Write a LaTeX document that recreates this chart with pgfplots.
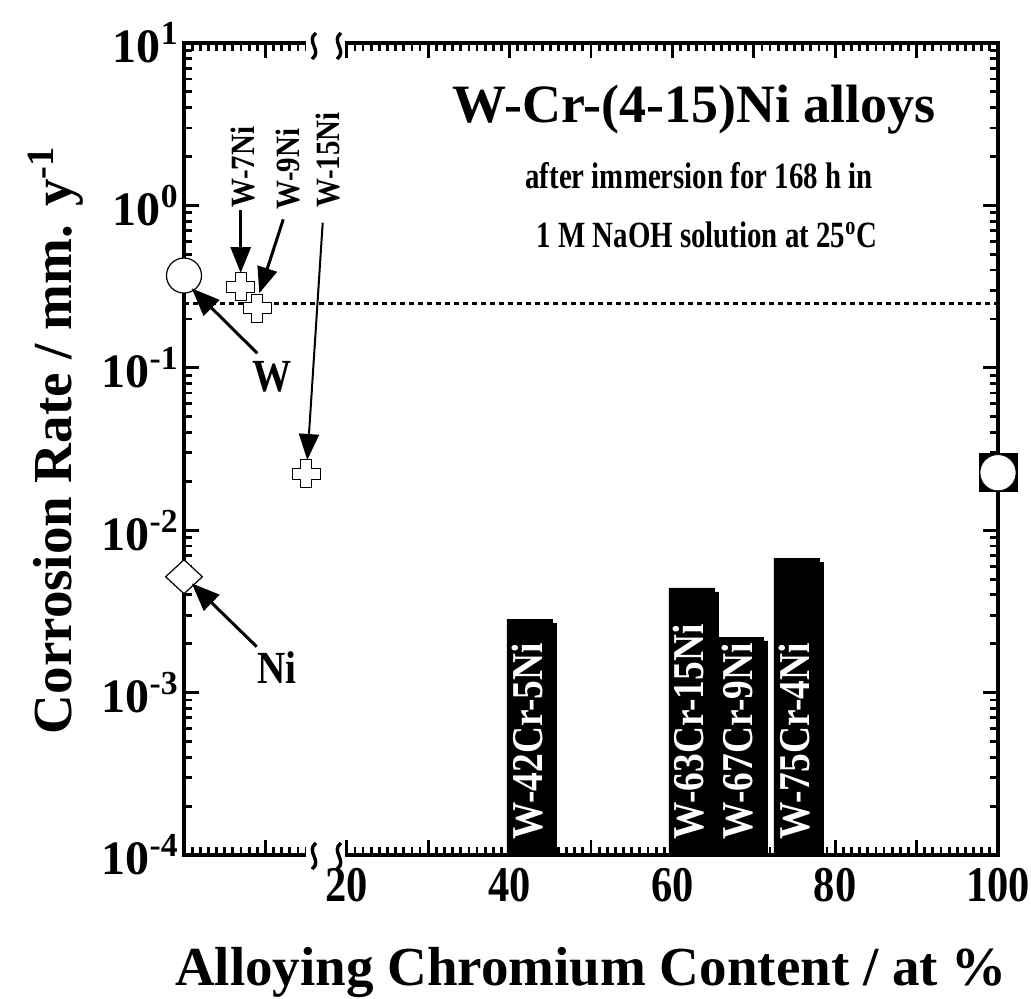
\documentclass[border=0pt]{standalone}
\usepackage{pgfplots}
\pgfplotsset{compat=1.18}
\usepackage{fontspec}
\setmainfont{Liberation Serif}
\newfontfamily\cond{Liberation Serif}[FakeStretch=0.85]
\newfontfamily\condb{Liberation Serif}[FakeStretch=0.78]
\usetikzlibrary{arrows.meta}

\pgfdeclareplotmark{fatplus}{%
  \pgfmathsetlengthmacro\pa{0.4*\pgfplotmarksize}%
  \pgfpathmoveto{\pgfqpoint{\pa}{\pgfplotmarksize}}%
  \pgfpathlineto{\pgfqpoint{\pa}{\pa}}%
  \pgfpathlineto{\pgfqpoint{\pgfplotmarksize}{\pa}}%
  \pgfpathlineto{\pgfqpoint{\pgfplotmarksize}{-\pa}}%
  \pgfpathlineto{\pgfqpoint{\pa}{-\pa}}%
  \pgfpathlineto{\pgfqpoint{\pa}{-\pgfplotmarksize}}%
  \pgfpathlineto{\pgfqpoint{-\pa}{-\pgfplotmarksize}}%
  \pgfpathlineto{\pgfqpoint{-\pa}{-\pa}}%
  \pgfpathlineto{\pgfqpoint{-\pgfplotmarksize}{-\pa}}%
  \pgfpathlineto{\pgfqpoint{-\pgfplotmarksize}{\pa}}%
  \pgfpathlineto{\pgfqpoint{-\pa}{\pa}}%
  \pgfpathlineto{\pgfqpoint{-\pa}{\pgfplotmarksize}}%
  \pgfpathclose
  \pgfusepathqfillstroke
}
\pgfdeclareplotmark{wdiamond}{%
  \pgfpathmoveto{\pgfqpoint{0pt}{\pgfplotmarksize}}%
  \pgfpathlineto{\pgfqpoint{1.08\pgfplotmarksize}{0pt}}%
  \pgfpathlineto{\pgfqpoint{0pt}{-\pgfplotmarksize}}%
  \pgfpathlineto{\pgfqpoint{-1.08\pgfplotmarksize}{0pt}}%
  \pgfpathclose
  \pgfusepathqfillstroke
}

\begin{document}
\begin{tikzpicture}
\begin{axis}[
  at={(0,0)}, anchor=south west,
  scale only axis, width=407pt, height=406pt,
  xmin=0, xmax=100, ymin=1e-4, ymax=10, ymode=log,
  log origin=infty, clip=false,
  axis line style={line width=2pt},
  tick style={line width=1.4pt, black},
  major tick length=7.5pt, minor tick length=4pt,
  tick align=inside,
  xtick={0,10,...,100},
  xticklabels={,,20,,40,,60,,80,,100},
  minor x tick num=9,
  ytick={1e-4,1e-3,1e-2,1e-1,1,10},
  yticklabels={10\textsuperscript{-4},10\textsuperscript{-3},10\textsuperscript{-2},10\textsuperscript{-1},10\textsuperscript{0},10\textsuperscript{1}},
  yticklabel style={font=\bfseries\fontsize{24pt}{24pt}\selectfont, inner sep=0pt, xshift=-2.5pt},
  xticklabel style={font=\cond\bfseries\fontsize{25pt}{25pt}\selectfont, inner sep=0pt, yshift=-6.5pt},
]
% reference level
\addplot[black, line width=1.5pt, dash pattern=on 2.5pt off 2pt] coordinates {(0,0.25) (100,0.25)};
% bars (shadow + bar)
\addplot[ybar, bar width=23pt, bar shift=2pt, fill=black, draw=none]
  coordinates {(42.5,2.68e-3) (62.4,4.17e-3) (68.4,2.08e-3) (75.3,6.37e-3)};
\addplot[ybar, bar width=23pt, bar shift=0pt, fill=black, draw=none]
  coordinates {(42.5,2.84e-3) (62.4,4.41e-3) (68.4,2.20e-3) (75.3,6.74e-3)};
% W
\addplot[only marks, mark=*, mark size=8.75pt, mark options={fill=white, draw=black, line width=0.6pt}]
  coordinates {(0,0.370)};
% Ni
\addplot[only marks, mark=wdiamond, mark size=8.5pt, mark options={fill=white, draw=black, line width=0.6pt}]
  coordinates {(0,0.00517)};
% W-Ni alloys
\addplot[only marks, mark=fatplus, mark size=7pt, mark options={fill=white, draw=black, line width=0.5pt}]
  coordinates {(7,0.316) (9,0.2325) (15,0.0222)};
% Cr
\addplot[only marks, mark=square*, mark size=9.5pt, mark options={fill=black, draw=black}]
  coordinates {(100,0.0226)};
\addplot[only marks, mark=*, mark size=9pt, mark options={fill=white, draw=black, line width=0.3pt}]
  coordinates {(100,0.0226)};
\end{axis}

\begin{scope}[x=0.5pt, y=-0.5pt, shift={(-92pt,427.5pt)}]
% axis break
\fill[white] (305.5,836) rectangle (345,859);
\fill[white] (305.5,39) rectangle (345,62);
\foreach \bx in {314,339}{
  \draw[line width=1.7pt] (\bx+2,843) .. controls (\bx-9,851) and (\bx+9,861) .. (\bx-2,869);
  \draw[line width=1.7pt] (\bx+2,33) .. controls (\bx-9,41) and (\bx+9,51) .. (\bx-2,59);
}
% arrows
\draw[line width=1.5pt, -{Triangle[length=13pt,width=10pt]}] (240.7,210) -- (240.7,273);
\draw[line width=1.5pt, -{Triangle[length=13pt,width=10pt]}] (283.3,219.3) -- (259.3,293.3);
\draw[line width=1pt, -{Triangle[length=13pt,width=10pt]}] (322.7,222.7) -- (307.3,460);
\draw[line width=1.5pt, -{Triangle[length=14pt,width=11pt]}] (257.3,353.3) -- (191.7,288.3);
\draw[line width=1.5pt, -{Triangle[length=14pt,width=11pt]}] (256.7,646.7) -- (191.7,583.3);
% point labels
\node[rotate=90, anchor=west, inner sep=0pt, font=\cond\bfseries\fontsize{17pt}{17pt}\selectfont] at (243,208) {W-7Ni};
\node[rotate=90, anchor=west, inner sep=0pt, font=\cond\bfseries\fontsize{17pt}{17pt}\selectfont] at (287.5,210) {W-9Ni};
\node[rotate=90, anchor=west, inner sep=0pt, font=\cond\bfseries\fontsize{17pt}{17pt}\selectfont] at (327.5,208) {W-15Ni};
\node[inner sep=0pt, font=\cond\bfseries\fontsize{23pt}{23pt}\selectfont] at (271.7,377) {W};
\node[inner sep=0pt, font=\cond\bfseries\fontsize{23pt}{23pt}\selectfont] at (276.7,668) {Ni};
% bar labels
\foreach \lx/\lt in {528/W-42Cr-5Ni, 688.5/W-63Cr-15Ni, 738/W-67Cr-9Ni, 795/W-75Cr-4Ni}{
  \node[rotate=90, anchor=west, inner sep=0pt, text=white, font=\cond\bfseries\fontsize{22pt}{22pt}\selectfont] at (\lx,840) {\lt};
}
% titles
\node[anchor=base, inner sep=0pt, font=\bfseries\fontsize{27pt}{27pt}\selectfont] at (694,122) {W-Cr-(4-15)Ni alloys};
\node[anchor=base, inner sep=0pt, font=\condb\bfseries\fontsize{18.5pt}{18.5pt}\selectfont] at (699,188) {after immersion for 168 h in};
\node[anchor=base, inner sep=0pt, font=\condb\bfseries\fontsize{18.5pt}{18.5pt}\selectfont] at (707,247) {1 M NaOH solution at 25\textsuperscript{o}C};
% axis labels
\node[anchor=base, inner sep=0pt, font=\bfseries\fontsize{27.5pt}{27.5pt}\selectfont] at (591,985) {Alloying Chromium Content / at \%};
\node[rotate=90, anchor=base, inner sep=0pt, font=\bfseries\fontsize{27.5pt}{27.5pt}\selectfont] at (72,440) {Corrosion Rate / mm. y\textsuperscript{-1}};
\pgfresetboundingbox
\path (0,0) rectangle (1031,998);
\end{scope}
\end{tikzpicture}
\end{document}
